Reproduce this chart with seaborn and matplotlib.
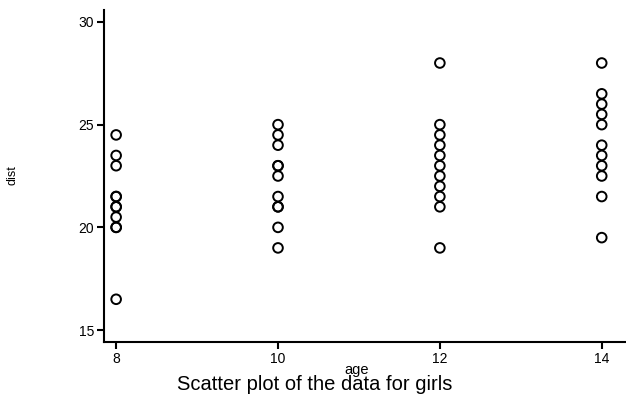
import matplotlib
matplotlib.use("Agg")
import matplotlib.pyplot as plt
import seaborn as sns
import pandas as pd

ages = [8, 10, 12, 14]
dist_age8 = [21, 21, 20.5, 23.5, 21.5, 20, 21.5, 23, 20, 16.5, 24.5]
dist_age10 = [20, 21.5, 24, 24.5, 23, 21, 22.5, 23, 21, 19, 25]
dist_age12 = [21.5, 24, 24.5, 25, 22.5, 21, 23, 23.5, 22, 19, 28]
dist_age14 = [23, 25.5, 26, 26.5, 23.5, 22.5, 25, 24, 21.5, 19.5, 28]
yticks = [15, 20, 25, 30]

rows = []
for a, vals in zip(ages, [dist_age8, dist_age10, dist_age12, dist_age14]):
    for v in vals:
        rows.append({"age": a, "dist": v})
df = pd.DataFrame(rows)

sns.set_theme(style="ticks")
plt.rcParams['font.family'] = ['Liberation Sans', 'DejaVu Sans']
plt.rcParams['text.color'] = 'black'

fig = plt.figure(figsize=(6.26, 3.95), dpi=100)
ax = fig.add_axes([104/626, 1-342/395, (626-104)/626, (342-10)/395])
sns.scatterplot(data=df, x="age", y="dist", ax=ax, marker="o", s=48,
                facecolor="none", edgecolor="black", linewidth=1.4)
ax.set_xlim(7.85, 14.3)
ax.set_ylim(14.42, 30.58)
ax.set_xticks(ages)
ax.set_yticks(yticks)
ax.tick_params(axis="both", direction="out", length=5, width=1.5, labelsize=10,
               colors="black", labelcolor="black", pad=2)
for s in ["top", "right"]:
    ax.spines[s].set_visible(False)
for s in ["left", "bottom"]:
    ax.spines[s].set_linewidth(1.5)
    ax.spines[s].set_color("black")
ax.set_xlabel("")
ax.set_ylabel("")
fig.text(12/626, 1-175/395, "dist", rotation=90, ha="center", va="center", fontsize=9, color="black")
fig.text(357/626, 1-370/395, "age", ha="center", va="center", fontsize=10.5, color="black")
fig.text(315/626, 1-385/395, "Scatter plot of the data for girls", ha="center", va="center",
         fontsize=14.5, color="black")
fig.savefig("out.png", dpi=100)
